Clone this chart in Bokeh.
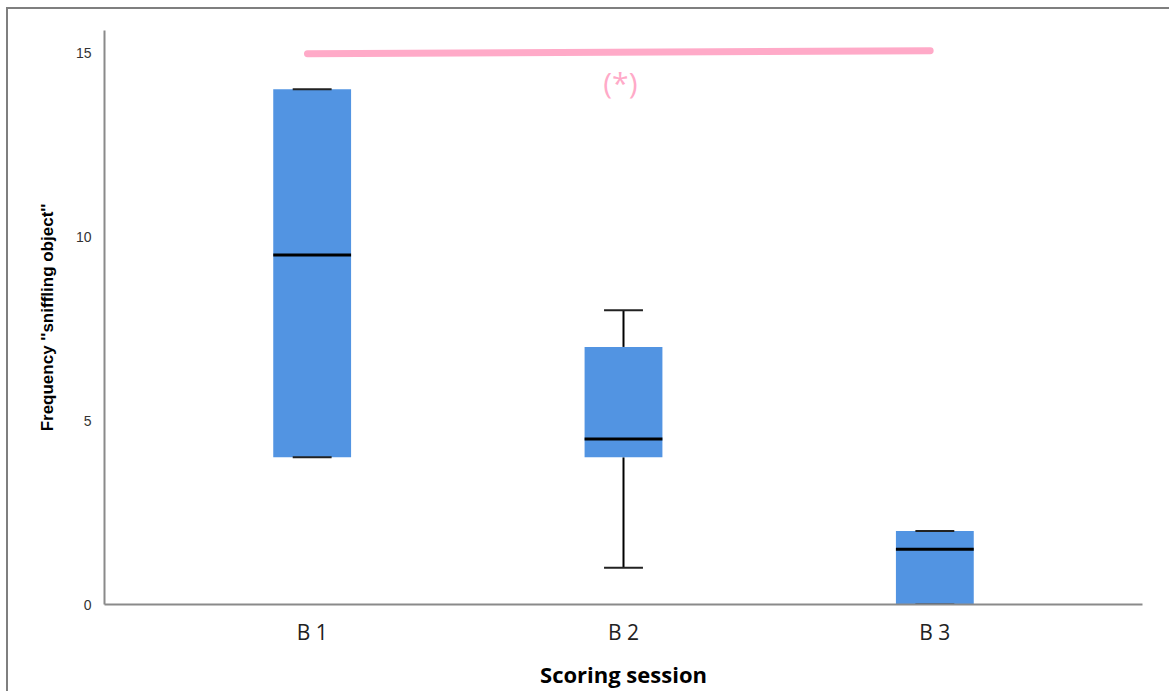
from bokeh.plotting import figure
from bokeh.models import Range1d, FixedTicker, ColumnDataSource
from bokeh.core.properties import value
from bokeh.embed import file_html
from bokeh.resources import INLINE

# ---- data ----
sessions = ["B 1", "B 2", "B 3"]
xpos = [1, 2, 3]
q1 = [4, 4, 0]
median = [9.5, 4.5, 1.5]
q3 = [14, 7, 2]
whisker_low = [4, 1, 0]
whisker_high = [14, 8, 2]

sig_x = [0.985, 2.985]
sig_y = [14.97, 15.05]
sig_label = "(*)"
sig_label_x = [1.99]
sig_label_y = [14.2]

box_color = "#5294E2"
pink = "#FFAAC8"

p = figure(
    frame_width=1038, frame_height=574,
    x_range=Range1d(0.333, 3.667), y_range=Range1d(0, 15.6),
    output_backend="svg", toolbar_location=None,
    min_border_left=96, min_border_right=27, min_border_top=21, min_border_bottom=84,
)
p.styles = {"border-top": "2px solid #7f7f7f", "border-left": "2px solid #7f7f7f",
            "margin-left": "6px", "margin-top": "7px"}
p.outline_line_color = None
p.grid.visible = False
p.background_fill_color = "white"

bw = 0.25
cw = 0.125
src = ColumnDataSource(dict(x=xpos, q1=q1, q3=q3, med=median, lo=whisker_low, hi=whisker_high))

# whiskers
p.segment(x0="x", y0="q3", x1="x", y1="hi", source=src, line_color="black", line_width=2)
p.segment(x0="x", y0="q1", x1="x", y1="lo", source=src, line_color="black", line_width=2)
# boxes
p.vbar(x="x", bottom="q1", top="q3", width=bw, source=src, fill_color=box_color, line_color=None)
# caps
xs = [x - cw / 2 for x in xpos]
xe = [x + cw / 2 for x in xpos]
p.segment(x0=xs, y0=whisker_high, x1=xe, y1=whisker_high, line_color="#222222", line_width=2)
p.segment(x0=xs, y0=whisker_low, x1=xe, y1=whisker_low, line_color="#222222", line_width=2)
# medians
p.segment(x0=[x - bw / 2 for x in xpos], y0=median, x1=[x + bw / 2 for x in xpos], y1=median,
          line_color="black", line_width=3)

# significance bar
p.line(sig_x, sig_y, line_color=pink, line_width=7, line_cap="round")
p.text(x=sig_label_x, y=sig_label_y, text=[sig_label], text_color=pink,
       text_font=value("Open Sans"), text_font_size="30px",
       text_align="center", text_baseline="middle")

# axes
p.xaxis.ticker = FixedTicker(ticks=xpos)
p.xaxis.major_label_overrides = {x: s for x, s in zip(xpos, sessions)}
p.yaxis.ticker = FixedTicker(ticks=[0, 5, 10, 15])

for ax in (p.xaxis[0], p.yaxis[0]):
    ax.axis_line_color = "#8a8a8a"
    ax.axis_line_width = 2
    ax.major_tick_line_color = None
    ax.minor_tick_line_color = None

p.yaxis.major_label_text_font = "Liberation Sans"
p.yaxis.major_label_text_font_size = "14px"
p.yaxis.major_label_text_color = "#333333"
p.yaxis.major_label_standoff = 7
p.yaxis.axis_label = "Frequency ''sniffling object''"
p.yaxis.axis_label_text_font = "Liberation Sans"
p.yaxis.axis_label_text_font_style = "bold"
p.yaxis.axis_label_text_font_size = "17px"
p.yaxis.axis_label_text_color = "black"
p.yaxis.axis_label_standoff = 16

p.xaxis.major_label_text_font = "Open Sans"
p.xaxis.major_label_text_font_size = "21px"
p.xaxis.major_label_text_color = "#222222"
p.xaxis.major_label_standoff = 7
p.xaxis.axis_label = "Scoring session"
p.xaxis.axis_label_text_font = "Open Sans"
p.xaxis.axis_label_text_font_style = "bold"
p.xaxis.axis_label_text_font_size = "22px"
p.xaxis.axis_label_text_color = "black"
p.xaxis.axis_label_standoff = 10

open("out.html", "w").write(file_html(p, INLINE))
